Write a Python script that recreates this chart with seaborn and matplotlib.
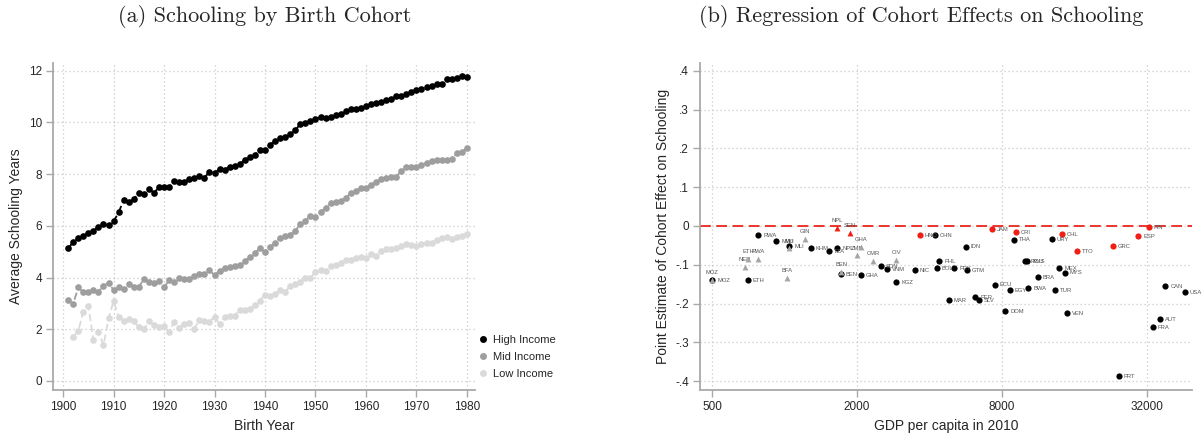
import numpy as np
import pandas as pd
import seaborn as sns
import matplotlib.pyplot as plt
from matplotlib.lines import Line2D

# ---- panel (a): average schooling by birth cohort ----
years = list(range(1901, 1981))
high_income = [5.14, 5.36, 5.53, 5.62, 5.71, 5.80, 5.97, 6.07, 6.02, 6.17,
               6.52, 7.00, 6.91, 7.04, 7.26, 7.23, 7.44, 7.28, 7.49, 7.49,
               7.51, 7.72, 7.69, 7.71, 7.80, 7.85, 7.91, 7.87, 8.08, 8.04,
               8.20, 8.17, 8.29, 8.30, 8.39, 8.56, 8.66, 8.75, 8.93, 8.94,
               9.14, 9.29, 9.38, 9.45, 9.54, 9.70, 9.94, 9.96, 10.06, 10.13,
               10.21, 10.17, 10.21, 10.28, 10.32, 10.43, 10.52, 10.53, 10.57, 10.63,
               10.72, 10.76, 10.80, 10.85, 10.89, 11.04, 11.04, 11.11, 11.17, 11.24,
               11.31, 11.37, 11.42, 11.49, 11.47, 11.68, 11.70, 11.73, 11.80, 11.77]
mid_income = [3.13, 2.98, 3.62, 3.43, 3.43, 3.52, 3.45, 3.69, 3.78, 3.52,
              3.65, 3.54, 3.76, 3.65, 3.65, 3.93, 3.84, 3.80, 3.85, 3.62,
              3.90, 3.81, 3.99, 3.94, 3.94, 4.06, 4.15, 4.15, 4.28, 4.09,
              4.27, 4.36, 4.41, 4.45, 4.47, 4.65, 4.78, 4.95, 5.14, 4.99,
              5.19, 5.35, 5.54, 5.62, 5.66, 5.81, 6.07, 6.19, 6.40, 6.33,
              6.52, 6.71, 6.88, 6.92, 6.98, 7.06, 7.29, 7.36, 7.46, 7.46,
              7.59, 7.69, 7.81, 7.85, 7.89, 7.90, 8.12, 8.26, 8.29, 8.29,
              8.35, 8.45, 8.51, 8.53, 8.54, 8.53, 8.60, 8.80, 8.87, 9.00]
low_income = [np.nan, 1.71, 1.93, 2.67, 2.90, 1.59, 1.91, 1.38, 2.42, 3.08,
              2.47, 2.32, 2.41, 2.32, 2.07, 2.00, 2.31, 2.15, 2.09, 2.14,
              1.88, 2.29, 2.05, 2.20, 2.26, 2.01, 2.36, 2.31, 2.29, 2.49,
              2.19, 2.46, 2.53, 2.53, 2.76, 2.73, 2.80, 2.94, 3.11, 3.34,
              3.29, 3.35, 3.52, 3.43, 3.69, 3.74, 3.83, 3.98, 3.98, 4.23,
              4.29, 4.25, 4.45, 4.47, 4.57, 4.66, 4.66, 4.77, 4.78, 4.77,
              4.91, 4.85, 5.03, 5.09, 5.12, 5.14, 5.23, 5.28, 5.26, 5.23,
              5.30, 5.34, 5.34, 5.45, 5.54, 5.55, 5.50, 5.58, 5.62, 5.70]
income_groups = ['High Income', 'Mid Income', 'Low Income']
year_ticks = [1900, 1910, 1920, 1930, 1940, 1950, 1960, 1970, 1980]
school_ticks = [0, 2, 4, 6, 8, 10, 12]

# ---- panel (b): cohort effects vs GDP ----
# black circles
blk_codes = ['MOZ', 'ETH', 'RWA', 'MWI', 'MLI', 'KHM', 'TZA', 'NPL', 'BEN', 'GHA',
             'SDN', 'VNM', 'KGZ', 'NIC', 'CHN', 'PHL', 'BOL', 'PRY', 'GTM', 'IDN',
             'MAR', 'ECU', 'PER', 'SLV', 'DOM', 'EGY', 'THA', 'BWA', 'ROU', 'RUS',
             'BRA', 'URY', 'MEX', 'MYS', 'TUR', 'VEN', 'PRT', 'CAN', 'USA', 'AUT', 'FRA']
blk_gdp = [502, 705, 779, 926, 1048, 1288, 1535, 1656, 1719, 2085,
           2510, 2670, 2910, 3468, 4205, 4396, 4292, 5080, 5732, 5652,
           4825, 7470, 6203, 6397, 8252, 8628, 8994, 10284, 10006, 10178,
           11244, 12905, 13824, 14605, 13310, 14860, 24390, 38150, 45920, 36350, 33920]
blk_eff = [-0.140, -0.140, -0.023, -0.039, -0.052, -0.056, -0.065, -0.058, -0.125, -0.126,
           -0.103, -0.110, -0.145, -0.114, -0.024, -0.090, -0.109, -0.108, -0.114, -0.053,
           -0.192, -0.151, -0.184, -0.192, -0.219, -0.165, -0.035, -0.161, -0.091, -0.091,
           -0.131, -0.034, -0.108, -0.120, -0.165, -0.225, -0.386, -0.156, -0.170, -0.241, -0.261]
# red circles
red_codes = ['HND', 'JAM', 'CRI', 'CHL', 'TTO', 'GRC', 'ESP', 'FIN']
red_gdp = [3640, 7266, 9150, 14163, 16360, 23155, 29465, 32560]
red_eff = [-0.024, -0.009, -0.016, -0.021, -0.065, -0.051, -0.026, -0.003]
# red triangles
rtri_codes = ['NPL', 'SEN']
rtri_gdp = [1656, 1867]
rtri_eff = [-0.004, -0.019]
# gray triangles
gtri_codes = ['MOZ', 'NER', 'ETH', 'RWA', 'BFA', 'MLI', 'GIN', 'BEN', 'GHA', 'ZMB', 'CMR', 'CIV']
gtri_gdp = [502, 684, 705, 779, 1026, 1048, 1214, 1719, 2085, 1993, 2335, 2910]
gtri_eff = [-0.140, -0.105, -0.085, -0.085, -0.134, -0.058, -0.033, -0.118, -0.053, -0.076, -0.091, -0.087]
gdp_ticks = [500, 2000, 8000, 32000]
effect_ticks = [0.4, 0.3, 0.2, 0.1, 0, -0.1, -0.2, -0.3, -0.4]
effect_labels = ['.4', '.3', '.2', '.1', '0', '-.1', '-.2', '-.3', '-.4']

sns.set_style('ticks')
plt.rcParams['font.family'] = ['Liberation Sans', 'DejaVu Sans']

SPINE = '#a9a9a9'
GRID = '#c9c9c9'


def stata_look(ax):
    for s in ['top', 'right']:
        ax.spines[s].set_visible(False)
    for s in ['left', 'bottom']:
        ax.spines[s].set_color(SPINE)
        ax.spines[s].set_linewidth(1.3)
    ax.tick_params(which='major', color=SPINE, length=5, width=1.0, labelsize=8.5, pad=3)
    ax.tick_params(which='minor', length=0)
    ax.grid(True, which='major', linestyle=(0, (1, 2.2)), color=GRID, linewidth=0.9)
    ax.set_axisbelow(True)


fig = plt.figure(figsize=(12.04, 4.33), dpi=100)
ax1 = fig.add_axes([53 / 1204, 43 / 433, 422 / 1204, 327 / 433])
ax2 = fig.add_axes([700 / 1204, 43 / 433, 492 / 1204, 327 / 433])

# panel (a)
school = pd.DataFrame({'year': years, 'High Income': high_income,
                       'Mid Income': mid_income, 'Low Income': low_income})
colors = ['#000000', '#9e9e9e', '#dadada']
for grp, col in zip(income_groups, colors):
    sns.lineplot(data=school, x='year', y=grp, ax=ax1, color=col,
                 linestyle=(0, (4, 2)), linewidth=1.3, marker='o',
                 markersize=4.8, markeredgewidth=0)

stata_look(ax1)
ax1.set_xlim(1898.0, 1981.6)
ax1.set_ylim(-0.35, 12.3)
ax1.set_xticks(year_ticks)
ax1.set_yticks(school_ticks)
ax1.set_xlabel('Birth Year', fontsize=10)
ax1.set_ylabel('Average Schooling Years', fontsize=10)

handles = [Line2D([], [], linestyle='none', marker='o', markersize=5,
                  markeredgewidth=0, color=c) for c in colors]
fig.legend(handles, income_groups, loc='center left',
           bbox_to_anchor=(474 / 1204, 1 - 357 / 433), frameon=False,
           fontsize=8, handlelength=0.8, handletextpad=0.5, labelspacing=0.65,
           borderaxespad=0)

# panel (b)
ax2.set_xscale('log', base=2)
ax2.axhline(0, color='#e8281e', linestyle=(0, (6, 3)), linewidth=1.3, zorder=1)

blk = pd.DataFrame({'code': blk_codes, 'gdp': blk_gdp, 'eff': blk_eff})
red = pd.DataFrame({'code': red_codes, 'gdp': red_gdp, 'eff': red_eff})
rtri = pd.DataFrame({'code': rtri_codes, 'gdp': rtri_gdp, 'eff': rtri_eff})
gtri = pd.DataFrame({'code': gtri_codes, 'gdp': gtri_gdp, 'eff': gtri_eff})

sns.scatterplot(data=blk, x='gdp', y='eff', ax=ax2, color='black', marker='o',
                s=20, linewidth=0, zorder=3)
sns.scatterplot(data=red, x='gdp', y='eff', ax=ax2, color='#f01e14', marker='o',
                s=20, linewidth=0, zorder=3)
sns.scatterplot(data=gtri, x='gdp', y='eff', ax=ax2, color='#a5a5a5', marker='^',
                s=18, linewidth=0, zorder=4)
sns.scatterplot(data=rtri, x='gdp', y='eff', ax=ax2, color='#f01e14', marker='^',
                s=18, linewidth=0, zorder=4)

lab_kw = dict(textcoords='offset points', fontsize=4.2, color='#555555')
for df in (blk, red):
    for _, r in df.iterrows():
        ax2.annotate(r['code'], (r['gdp'], r['eff']), xytext=(3.5, -0.3),
                     ha='left', va='center', **lab_kw)
for df in (gtri, rtri):
    for _, r in df.iterrows():
        ax2.annotate(r['code'], (r['gdp'], r['eff']), xytext=(0, 3.5),
                     ha='center', va='bottom', **lab_kw)

stata_look(ax2)
ax2.set_xlim(446, 49200)
ax2.set_ylim(-0.4232, 0.4206)
ax2.set_xticks(gdp_ticks)
ax2.set_xticklabels([str(t) for t in gdp_ticks])
ax2.set_yticks(effect_ticks)
ax2.set_yticklabels(effect_labels)
ax2.set_xlabel('GDP per capita in 2010', fontsize=10)
ax2.set_ylabel('Point Estimate of Cohort Effect on Schooling', fontsize=10)

fig.text(265 / 1204, 1 - 17 / 433, '(a) Schooling by Birth Cohort', ha='center',
         va='center', fontsize=16, family='cmr10')
fig.text(921 / 1204, 1 - 17 / 433, '(b) Regression of Cohort Effects on Schooling',
         ha='center', va='center', fontsize=16, family='cmr10')

fig.savefig('out.png', dpi=100)
